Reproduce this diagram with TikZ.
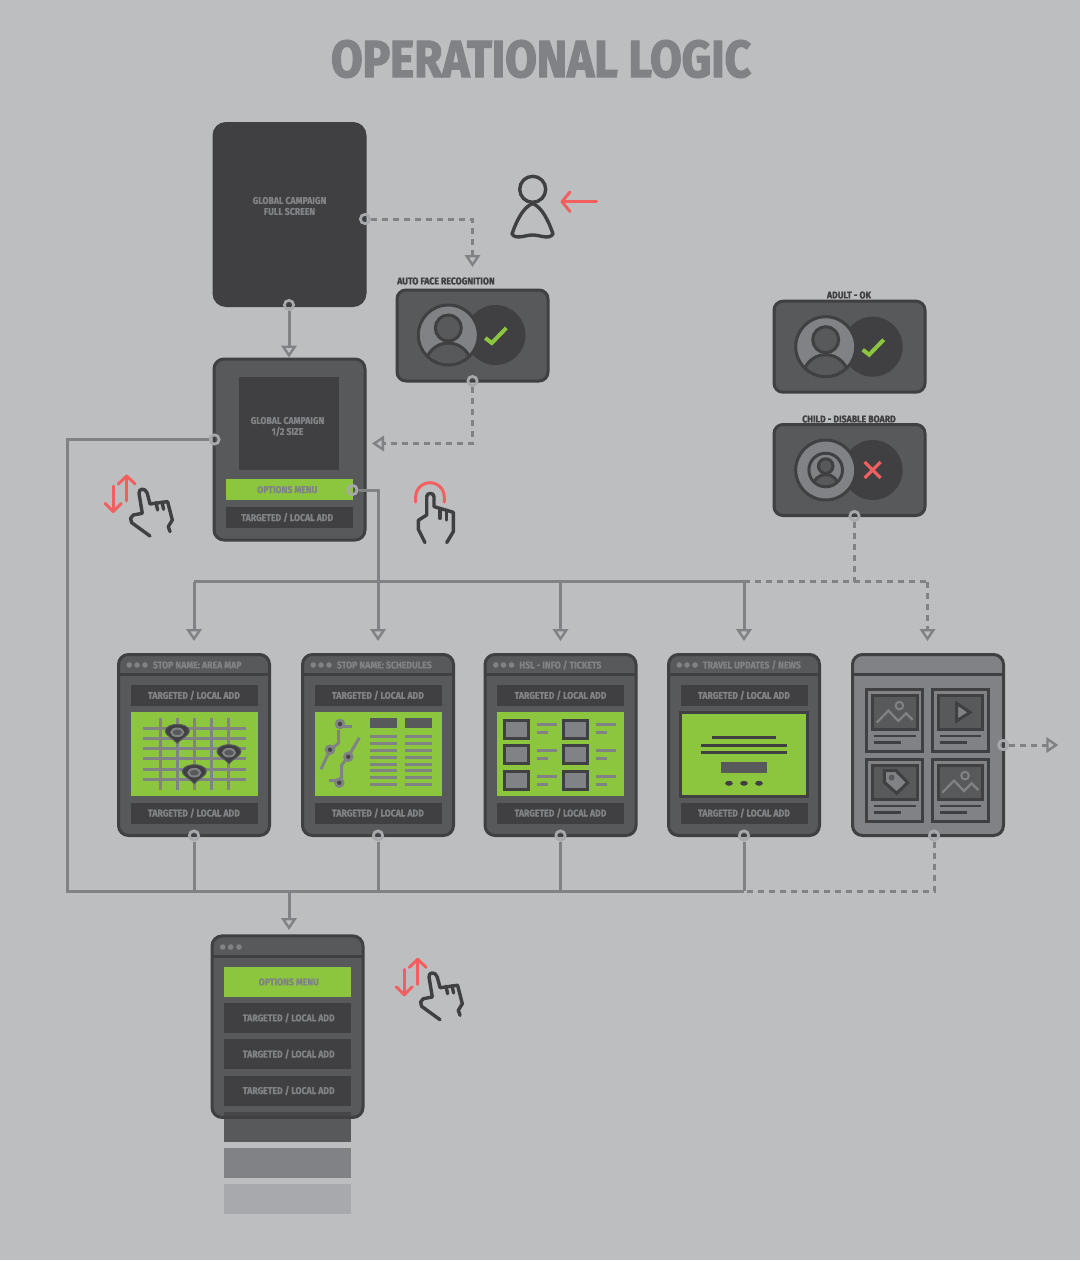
\documentclass[tikz,border=0pt]{standalone}
\usepackage{fontspec}
\usetikzlibrary{arrows.meta}
\newfontfamily\labelfont[FakeStretch=0.89,FakeBold=1.2]{Fira Sans}
\newfontfamily\titlefont[FakeStretch=0.88,FakeBold=2.5]{Fira Sans}
\definecolor{canvasgrey}{HTML}{BDBEC0}
\definecolor{darkgrey}{HTML}{404042}
\definecolor{midgrey}{HTML}{58595B}
\definecolor{textgrey}{HTML}{808285}
\definecolor{ringgrey}{HTML}{A7A9AC}
\definecolor{leaf}{HTML}{8CC63F}
\definecolor{signal}{HTML}{F1605F}
\tikzset{
  tiny/.style={font=\labelfont\bfseries\fontsize{9.8}{11}\selectfont, inner sep=0pt, align=center},
  screen/.style={draw=darkgrey, fill=midgrey, line width=3pt, rounded corners=10pt, inner sep=0pt, minimum width=151pt, minimum height=181pt},
  facebox/.style={screen, minimum height=91pt, rounded corners=9pt},
  bar/.style={fill=darkgrey, text=textgrey, tiny, text height=7pt, text depth=0pt, minimum width=127pt, minimum height=21pt},
  tallbar/.style={bar, minimum height=30pt},
  greenbar/.style={bar, fill=leaf},
  ring/.style={circle, draw=ringgrey, line width=2.7pt, inner sep=0pt, minimum size=9.3pt},
  link/.style={draw=textgrey, line width=3pt},
  solid link/.style={link, -{Triangle[open, length=12pt, width=15.5pt, line width=2.4pt]}},
  dash link/.style={link, dash pattern=on 6pt off 5pt},
  dash tip/.style={dash link, -{Triangle[open, length=12pt, width=15.5pt, line width=2.4pt]}},
  rule/.style={draw=darkgrey, line width=3pt},
  thin bar/.style={draw=textgrey, line width=3pt},
  ink/.style={draw=darkgrey, line width=3pt},
  outline/.style={draw=darkgrey, line width=3.4pt, line cap=round, line join=round},
  red arrow/.style={draw=signal, line width=3pt, line cap=round, line join=round},
  % open hand, origin on the finger tip
  hand/.pic={
    \draw[outline] (-5,49.3) -- (-11.7,36) -- (-11.7,27) -- (-3.3,21.7) -- (-3.3,3.3) .. controls (-3.3,-1) and (4,-1) .. (4,3.3) -- (4,13.3) -- (23.3,19) -- (23.3,38.3) -- (16.7,49.3);
    \draw[outline] (10,16) -- (10,25);
    \draw[outline] (16.7,17.3) -- (16.7,26.7);
  },
  slant hand/.pic={
    \draw[outline] (6.7,46.7) -- (-11.7,33.3) -- (-12.7,29) -- (-10,25.7) -- (-1,24) -- (-4.3,4) .. controls (-5,-1) and (2,-2) .. (4,4) -- (6.7,14.7) -- (24.3,12.3) -- (29,30.7) -- (25,37.3) -- (26.7,42.3);
    \draw[outline] (12.7,13.3) -- (14.3,20.7);
    \draw[outline] (18.7,12.7) -- (20.3,20);
  },
  updown/.pic={
    \draw[red arrow] (13.4,25) -- (13.4,0);
    \draw[red arrow] (5,8) -- (13.4,0) -- (21.8,8);
    \draw[red arrow] (0,10) -- (0,35.5);
    \draw[red arrow] (-8,27.5) -- (0,35.5) -- (8,27.5);
  },
  bust/.pic={
    \fill[textgrey] (0,0) circle (30);
    \begin{scope}
      \clip (0,0) circle (30);
      \draw[rule, fill=midgrey] (0,31) circle (23);
    \end{scope}
    \draw[rule, fill=midgrey] (0,-7) circle (13);
    \draw[rule] (0,0) circle (30);
  },
  tick/.pic={\draw[draw=leaf, line width=4pt] (37,3) -- (43.5,8) -- (58,-7);},
  pin/.pic={
    \draw[fill=darkgrey, draw=midgrey, line width=1pt] (-12,-1) .. controls (-12,-6) and (-5,-8) .. (0,-8) .. controls (5,-8) and (12,-6) .. (12,-1) .. controls (12,3) and (4,6) .. (0,11) .. controls (-4,6) and (-12,3) .. (-12,-1) -- cycle;
    \draw[draw=textgrey, fill=midgrey, line width=2pt] (0,0) ellipse (6 and 3.8);
  },
  card/.pic={
    \draw[rule, fill=textgrey] (0,0) rectangle (56,62.4);
    \draw[rule, fill=midgrey] (6,5.7) rectangle (50.4,39.7);
    \draw[draw=darkgrey, line width=2.4pt] (7.3,46.7) -- (49,46.7);
    \draw[draw=darkgrey, line width=2.4pt] (7.3,53) -- (34.3,53);
  },
  scenery/.pic={
    \draw[draw=textgrey, line width=2.2pt] (10,33.3) -- (21.7,21.3) -- (31.7,31.7) -- (39.3,24) -- (46,30.7);
    \draw[draw=textgrey, line width=2pt] (32.7,16.3) circle (3.8);
  }
}

\begin{document}
\begin{tikzpicture}[x=1pt,y=-1pt]
    \useasboundingbox (0,0) rectangle (1080,1261);
    \fill[canvasgrey] (0,0) rectangle (1080,1260);

    % === Title ===
    \node[inner sep=0pt, text=textgrey, font=\titlefont\bfseries\fontsize{52}{52}\selectfont] (title) at (541,59) {OPERATIONAL LOGIC};

    % === Top: campaign screens ===
    \node[screen, fill=darkgrey, minimum height=182pt, rounded corners=12pt] (fullscreen) at (289.5,214.5) {};
    \node[tiny, text=textgrey] (fulltext) at (289.5,206) {GLOBAL CAMPAIGN\\FULL SCREEN};

    \node[screen] (halfscreen) at (289.5,449.5) {};
    \node[fill=darkgrey, minimum width=100pt, minimum height=93.5pt, inner sep=0pt] (halfblock) at (289.3,423.5) {};
    \node[tiny, text=textgrey] (halftext) at (287.5,426.5) {GLOBAL CAMPAIGN\\1/2 SIZE};
    \node[greenbar] (optionsbar) at (289.3,489.5) {\hspace{-4pt}OPTIONS MENU};
    \node[bar] (localbar) at (289.3,517.5) {\hspace{-4pt}TARGETED / LOCAL ADD};

    % person walking up
    \draw[outline] (532.7,189.3) circle (13);
    \draw[outline] (532.7,203.5) .. controls (523,207) and (516,222) .. (512,234) .. controls (516,240) and (525,235) .. (532.7,235) .. controls (540,235) and (549,240) .. (553,234) .. controls (549,222) and (542,207) .. (532.7,203.5) -- cycle;
    \draw[red arrow] (596.5,201.7) -- (562,201.7);
    \draw[red arrow] (570,192) -- (562,201.7) -- (570,211.5);

    % === Face check boxes ===
    \node[facebox] (autobox) at (472.5,335.5) {};
    \node[tiny, text=darkgrey, anchor=west] (autolabel) at (397,281) {AUTO FACE RECOGNITION};
    \fill[darkgrey] (495.5,335) circle (30);
    \pic at (448.3,335) {bust};
    \pic at (448.3,335) {tick};

    \node[facebox] (adultbox) at (849.5,346.7) {};
    \node[tiny, text=darkgrey] (adultlabel) at (849,295) {ADULT - OK};
    \fill[darkgrey] (872.7,346.7) circle (30);
    \pic at (825.7,346.7) {bust};
    \pic at (825.7,346.7) {tick};

    \node[facebox] (childbox) at (849.5,470) {};
    \node[tiny, text=darkgrey] (childlabel) at (849,419) {CHILD - DISABLE BOARD};
    \fill[darkgrey] (872.7,470) circle (30);
    \draw[rule, fill=textgrey] (825.7,470) circle (30);
    \pic[scale=.56] at (825.7,470) {bust};
    \draw[draw=signal, line width=3.2pt] (864.7,462) -- (880.7,478) (864.7,478) -- (880.7,462);

    % === Row of stop screens ===
    \foreach \name/\cx/\head in {map/194/{STOP NAME: AREA MAP}, times/378/{STOP NAME: SCHEDULES}, tickets/560.5/{HSL - INFO / TICKETS}, news/744/{TRAVEL UPDATES / NEWS}} {
      \begin{scope}[shift={(\cx,0)}]
        \node[screen] (stop\name) at (0,745) {};
        \draw[rule] (-75.5,674.3) -- (75.5,674.3);
        \foreach \dx in {-64.7,-57,-49} {
          \fill[textgrey] (\dx,665) circle (2.8);
        }
        \node[tiny, text=textgrey, anchor=west] (head\name) at (-41.3,665) {\head};
        \node[bar] (upper\name) at (0,695.3) {TARGETED / LOCAL ADD};
        \node[greenbar, minimum height=84pt] (green\name) at (0,753.7) {};
        \node[bar] (lower\name) at (0,813) {TARGETED / LOCAL ADD};
      \end{scope}
    }

    % area map
    \foreach \y in {728.5,738.5,748.5,758.5,769.5,779.5} {
      \draw[thin bar] (143.3,\y) -- (246,\y);
    }
    \foreach \x in {160.5,177.5,194.5,211.5,228.5} {
      \draw[thin bar] (\x,718.3) -- (\x,790);
    }
    \pic at (177.3,732.3) {pin};
    \pic at (229,752.7) {pin};
    \pic at (194.3,772.7) {pin};

    % schedules
    \draw[thin bar] (340,726.5) -- (351.7,726.5);
    \draw[thin bar] (338.7,730) -- (338.7,743) -- (330,750) -- (321,769.3);
    \draw[thin bar] (359.3,737.7) -- (348.3,756.7) -- (341.7,765) -- (341.7,776.7) -- (339.3,782.7);
    \draw[thin bar] (328.7,780.5) -- (339.3,780.5);
    \foreach \x/\y in {340/724,330/749.7,348.3/756.7,339.3/782.7} {
      \fill[textgrey] (\x,\y) circle (5.3);
      \fill[darkgrey!80!midgrey] (\x,\y) circle (2.2);
    }
    \foreach \x in {370,405} {
      \fill[midgrey] (\x,718.3) rectangle ++(26.7,10);
      \foreach \y in {736.5,743.5,750.5,757.5,764.5,770.5,777.5,784.5} {
        \draw[thin bar] (\x,\y) -- ++(26.7,0);
      }
    }

    % tickets
    \foreach \x in {504.8,563.8} {
      \foreach \y in {720.2,745.8,771.5} {
        \draw[rule, fill=textgrey] (\x,\y) rectangle ++(23.4,18);
      }
    }
    \foreach \x/\y in {537/724.5,537/750.5,537/776.5,596/724.5,596/750.5,596/776.5} {
      \draw[thin bar] (\x,\y) -- ++(20,0);
      \draw[thin bar] (\x,\y+8) -- ++(11,0);
    }

    % news
    \draw[rule, fill=leaf] (680.8,712.5) rectangle (807.2,796);
    \draw[ink] (712,737.5) -- (776,737.5);
    \draw[ink] (701.3,745.5) -- (786.7,745.5);
    \draw[ink] (701.3,752.5) -- (786.7,752.5);
    \fill[midgrey] (721,762.3) rectangle (766.7,773);
    \foreach \x in {729,744,759} {
      \fill[darkgrey] (\x,783.3) ellipse (3.8 and 2.5);
    }

    % last stop screen, all pictures
    \node[screen, fill=textgrey] (stopnext) at (928,745) {};
    \draw[rule] (852.5,674.3) -- (1003.5,674.3);
    \pic at (866.7,689.3) {card};
    \pic at (932.3,689.3) {card};
    \pic at (866.7,759.3) {card};
    \pic at (932.3,759.3) {card};
    \pic at (866.7,689.3) {scenery};
    \pic at (932.3,759.3) {scenery};
    \draw[rule, fill=textgrey] (956.6,703.3) -- (970,712.3) -- (956.6,721) -- cycle;
    \draw[rule, fill=textgrey] (884.4,770.6) -- (896,770.6) -- (907.7,782.6) -- (896.7,793.3) -- (884.4,782.3) -- cycle;
    \fill[midgrey] (891.7,777.6) circle (3);

    % === Bottom: options screen and its stack ===
    \fill[midgrey] (224,1112) rectangle (350.7,1141.7);
    \fill[textgrey] (224,1148) rectangle (350.7,1177.7);
    \fill[ringgrey] (224,1184.3) rectangle (350.7,1214);
    \node[screen, minimum height=181.5pt, fill=midgrey] (optionsscreen) at (287.5,1026.7) {};
    \fill[darkgrey!75!midgrey] (224,1112) rectangle (350.7,1116);
    \draw[rule] (212,956.7) -- (363,956.7);
    \foreach \dx in {222.7,230.7,239} {
      \fill[textgrey] (\dx,947) circle (2.8);
    }
    \node[greenbar, minimum height=30pt] (menubar) at (287.3,981.8) {\hspace{3pt}OPTIONS MENU};
    \foreach \y/\z in {1017.8/one,1054/two,1090.5/three} {
      \node[tallbar] (local\z) at (287.3,\y) {\hspace{3pt}TARGETED / LOCAL ADD};
    }

    % gestures
    \pic at (113.3,476) {updown};
    \pic at (143.3,489.3) {slant hand};
    \draw[red arrow] (415.7,502) -- (415.7,497) arc (180:360:14.3) -- (444.3,502);
    \pic at (430,493.3) {hand};
    \pic at (404.3,959.3) {updown};
    \pic at (433.3,973) {slant hand};

    % === Rings on the screens ===
    \node[ring] (ringfullbottom) at (289,305) {};
    \node[ring] (ringfullside) at (365,219) {};
    \node[ring] (ringauto) at (472.5,381) {};
    \node[ring] (ringhalf) at (214.5,439.5) {};
    \node[ring] (ringoptions) at (352.5,490) {};
    \node[ring] (ringchild) at (854.5,516) {};
    \node[ring] (ringmap) at (194,835.5) {};
    \node[ring] (ringtimes) at (378,835.5) {};
    \node[ring] (ringtickets) at (560.5,835.5) {};
    \node[ring] (ringnews) at (744,835.5) {};
    \node[ring] (ringnextbottom) at (934,835.5) {};
    \node[ring] (ringnextside) at (1003.3,745) {};

    % free ends of the connectors
    \coordinate (autotip) at (472.5,267);
    \coordinate (halftip) at (372,443.5);
    \coordinate (nexttip) at (1058.3,745);
    \coordinate (menutip) at (289,930);
    \coordinate (upperwest) at (194,581.5);
    \coordinate (uppermid) at (744,581.5);
    \coordinate (uppereast) at (927.5,581.5);
    \coordinate (lowerwest) at (67.5,891);
    \coordinate (lowermid) at (744,891);
    \coordinate (lowerarrow) at (289,891);

    % === Connectors ===
    \draw[solid link] (ringfullbottom) -- (halfscreen.north -| ringfullbottom);
    \draw[dash tip] (ringfullside) -| (autotip);
    \draw[dash tip] (ringauto) |- (halftip);
    \draw[link] (ringhalf) -| (lowerwest) -- (lowermid);
    \draw[solid link] (lowerarrow) -- (menutip);

    \draw[link] (upperwest) -- (uppermid);
    \draw[dash link] (uppermid) -- (uppereast);
    \draw[dash link] (ringchild) -- (ringchild |- uppereast);
    \draw[solid link] (ringoptions) -| ([yshift=12pt]stoptimes.north);
    \foreach \name in {map,tickets,news} {
      \draw[solid link] (upperwest -| stop\name.north) -- ([yshift=12pt]stop\name.north);
    }
    \draw[dash tip] (uppereast) -- ([yshift=12pt]stopnext.north -| uppereast);

    \foreach \name in {map,times,tickets,news} {
      \draw[link] (ring\name) -- (ring\name |- lowermid);
    }
    \draw[dash link] (ringnextbottom) |- (lowermid);
    \draw[dash tip] (ringnextside) -- (nexttip);
\end{tikzpicture}
\end{document}
